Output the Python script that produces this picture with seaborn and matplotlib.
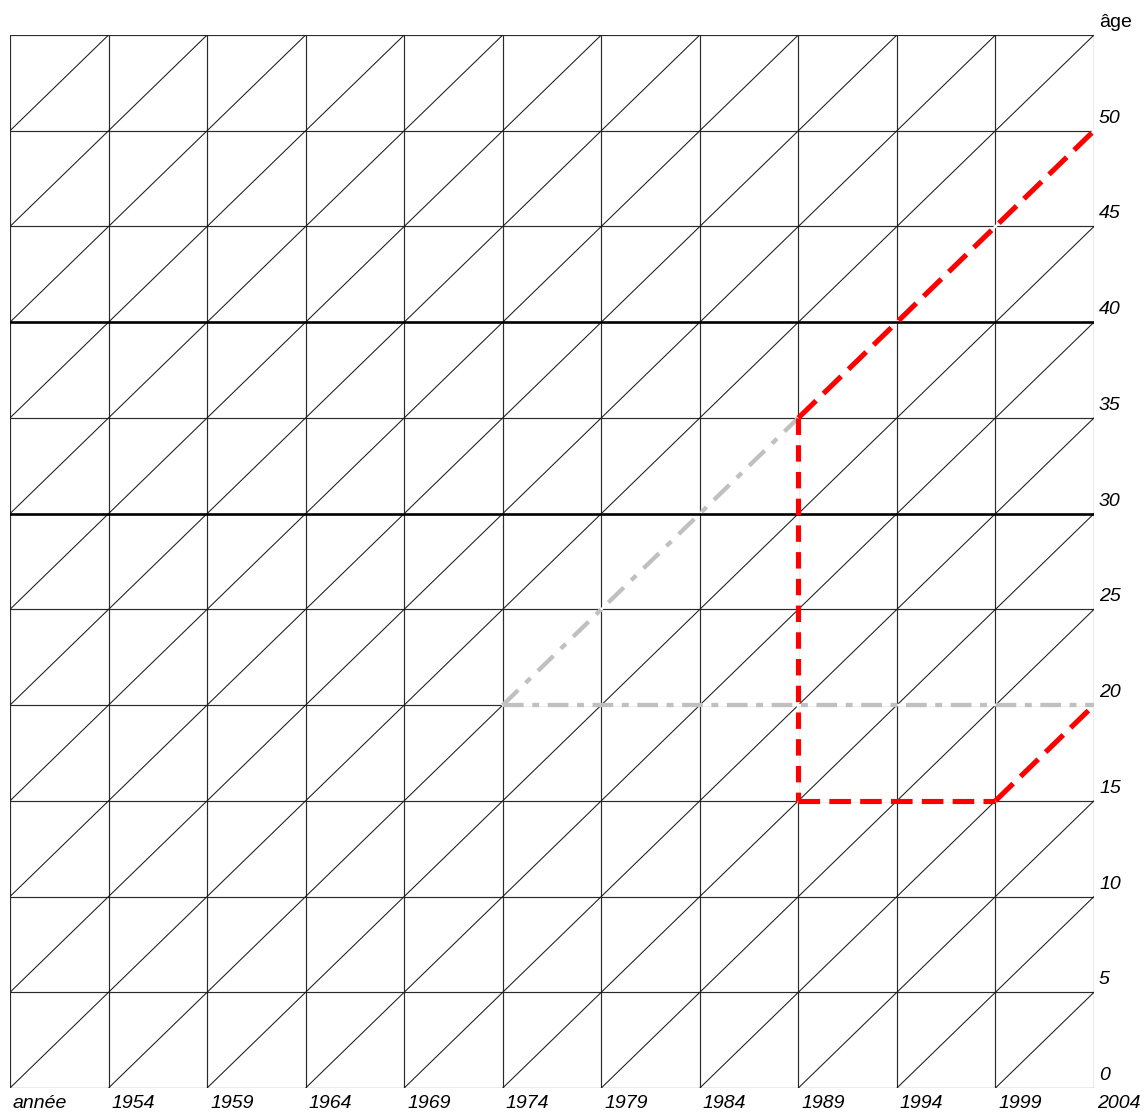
import matplotlib
matplotlib.use("Agg")
import matplotlib.pyplot as plt
import matplotlib.transforms as mtransforms
import seaborn as sns
import pandas as pd

sns.set_theme(style="white")
plt.rcParams['font.family'] = ['Liberation Sans', 'DejaVu Sans']

# ---- data ----
years = [1949, 1954, 1959, 1964, 1969, 1974, 1979, 1984, 1989, 1994, 1999, 2004]
year_labels = ["année", "1954", "1959", "1964", "1969", "1974", "1979", "1984",
               "1989", "1994", "1999", "2004"]
ages = [0, 5, 10, 15, 20, 25, 30, 35, 40, 45, 50, 55]
age_labels = ["0", "5", "10", "15", "20", "25", "30", "35", "40", "45", "50", "âge"]
thick_ages = [30, 40]

# red trajectory (segments)
red_seg = ["a", "a", "b", "b", "c", "c", "d", "d"]
red_year = [1989, 2004, 1989, 1989, 1989, 1999, 1999, 2004]
red_age = [35, 50, 35, 15, 15, 15, 15, 20]

# grey trajectory (segments)
grey_seg = ["e", "e", "f", "f"]
grey_year = [1974, 1989, 1974, 2004]
grey_age = [20, 35, 20, 20]

W, H, DPI = 1145, 1113, 100
fig = plt.figure(figsize=(W / DPI, H / DPI), dpi=DPI)
ax = fig.add_axes([10 / W, (H - 1088) / H, (1094 - 10) / W, (1088 - 35) / H])

# grid
for yr in years:
    ax.axvline(yr, color="#2a2a2a", lw=0.85, zorder=1)
for a in ages:
    if a in thick_ages:
        ax.axhline(a, color="black", lw=1.9, zorder=2.8)
    else:
        ax.axhline(a, color="#2a2a2a", lw=0.85, zorder=1)
# cohort diagonals
span = ages[-1] - ages[0]
for c in range(years[0] - span, years[-1], 5):
    ax.plot([c, c + span], [ages[0], ages[-1]], color="#1a1a1a", lw=0.75,
            zorder=1, solid_capstyle="butt")

# trajectories
red_df = pd.DataFrame({"year": red_year, "age": red_age, "seg": red_seg})
grey_df = pd.DataFrame({"year": grey_year, "age": grey_age, "seg": grey_seg})

# white underlay so grid lines are hidden in the dash gaps
sns.lineplot(data=grey_df, x="year", y="age", units="seg", color="white",
             sort=False, estimator=None, linewidth=1.7, legend=False, ax=ax,
             zorder=2.5)
sns.lineplot(data=red_df, x="year", y="age", units="seg", color="white",
             sort=False, estimator=None, linewidth=1.7, legend=False, ax=ax,
             zorder=2.6)

sns.lineplot(data=grey_df, x="year", y="age", hue="seg", style="seg",
             palette={"e": "#c0c0c0", "f": "#c0c0c0"},
             dashes={"e": (5.0, 2.4, 1.6, 2.4), "f": (4.8, 2.0, 1.6, 2.0)},
             sort=False, estimator=None, linewidth=3.1, legend=False, ax=ax,
             zorder=3)
sns.lineplot(data=red_df, x="year", y="age", hue="seg", style="seg",
             palette={"a": "#ff0000", "b": "#ff0000", "c": "#ff0000", "d": "#ff0000"},
             dashes={"a": (4.8, 2.0), "b": (3.2, 2.0), "c": (4.2, 1.8), "d": (4.8, 2.0)},
             sort=False, estimator=None, linewidth=3.7, legend=False, ax=ax,
             zorder=4)
ax.set_xlim(years[0], years[-1])
ax.set_ylim(ages[0], ages[-1])
ax.axis("off")

# labels
xt = mtransforms.blended_transform_factory(ax.transData, ax.transAxes)
xt = mtransforms.offset_copy(xt, fig=fig, x=3, y=-7, units="dots")
for yr, lab in zip(years, year_labels):
    ax.text(yr, 0, lab, transform=xt, ha="left", va="top", fontsize=14,
            style="italic", color="black")

yt = mtransforms.blended_transform_factory(ax.transAxes, ax.transData)
yt = mtransforms.offset_copy(yt, fig=fig, x=5, y=8, units="dots")
for a, lab in zip(ages, age_labels):
    ax.text(1.0, a, lab, transform=yt, ha="left", va="baseline", fontsize=14,
            style="normal" if lab == "âge" else "italic", color="black")

fig.savefig("out.png", dpi=DPI, facecolor="white")
